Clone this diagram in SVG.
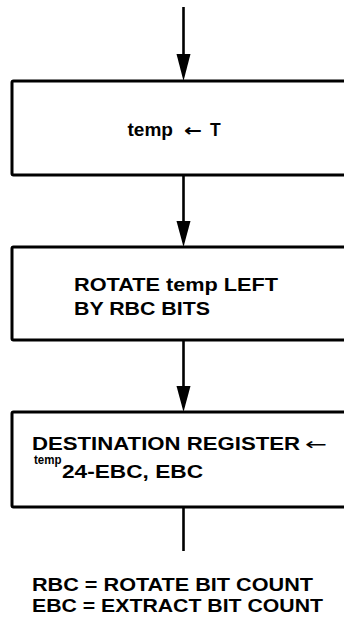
<svg xmlns="http://www.w3.org/2000/svg" width="344" height="623" viewBox="0 0 344 623">
<style>
.box{fill:#fff;stroke:#000;stroke-width:3;}
.ln{stroke:#000;stroke-width:2.6;fill:none;}
.hd{fill:#000;stroke:none;}
.t{font-family:"Liberation Sans","DejaVu Sans",Arial,sans-serif;font-weight:bold;font-size:17.5px;fill:#000;}
.s{font-family:"Liberation Sans","DejaVu Sans",Arial,sans-serif;font-weight:bold;font-size:12.5px;fill:#000;}
.a{font-family:"DejaVu Sans","Liberation Sans",sans-serif;font-size:17px;fill:#000;}
</style>
<rect width="344" height="623" fill="#fff"/>
<g id="connectors">
<line class="ln" x1="183.5" y1="7" x2="183.5" y2="60"/>
<polygon class="hd" points="176.5,54 190.5,54 183.5,81"/>
<line class="ln" x1="183.5" y1="175" x2="183.5" y2="226"/>
<polygon class="hd" points="176.5,221 190.5,221 183.5,247"/>
<line class="ln" x1="183.5" y1="340" x2="183.5" y2="392"/>
<polygon class="hd" points="176.5,386 190.5,386 183.5,412"/>
<line class="ln" x1="183.5" y1="507" x2="183.5" y2="551"/>
</g>
<g id="node1">
<rect class="box" x="12" y="81" width="345" height="94" rx="1.5"/>
<text class="t" x="127.5" y="136" textLength="45.5" lengthAdjust="spacingAndGlyphs">temp</text>
<text class="a" x="184" y="136" textLength="18" lengthAdjust="spacingAndGlyphs" font-weight="bold">←</text>
<text class="t" x="210" y="136">T</text>
</g>
<g id="node2">
<rect class="box" x="12" y="247" width="345" height="93" rx="1.5"/>
<text class="t" x="74" y="291" textLength="204" lengthAdjust="spacingAndGlyphs">ROTATE temp LEFT</text>
<text class="t" x="74" y="315" textLength="136" lengthAdjust="spacingAndGlyphs">BY RBC BITS</text>
</g>
<g id="node3">
<rect class="box" x="12" y="412" width="345" height="95" rx="1.5"/>
<text class="t" x="32" y="450" textLength="268" lengthAdjust="spacingAndGlyphs">DESTINATION REGISTER</text>
<text class="a" x="305" y="450" textLength="22" lengthAdjust="spacingAndGlyphs">←</text>
<text class="s" x="34" y="464" textLength="27.5" lengthAdjust="spacingAndGlyphs">temp</text>
<text class="t" x="62" y="478" textLength="141" lengthAdjust="spacingAndGlyphs">24-EBC, EBC</text>
</g>
<g id="legend">
<text class="t" x="32" y="591" textLength="281" lengthAdjust="spacingAndGlyphs">RBC = ROTATE BIT COUNT</text>
<text class="t" x="32" y="612" textLength="291" lengthAdjust="spacingAndGlyphs">EBC = EXTRACT BIT COUNT</text>
</g>
</svg>
